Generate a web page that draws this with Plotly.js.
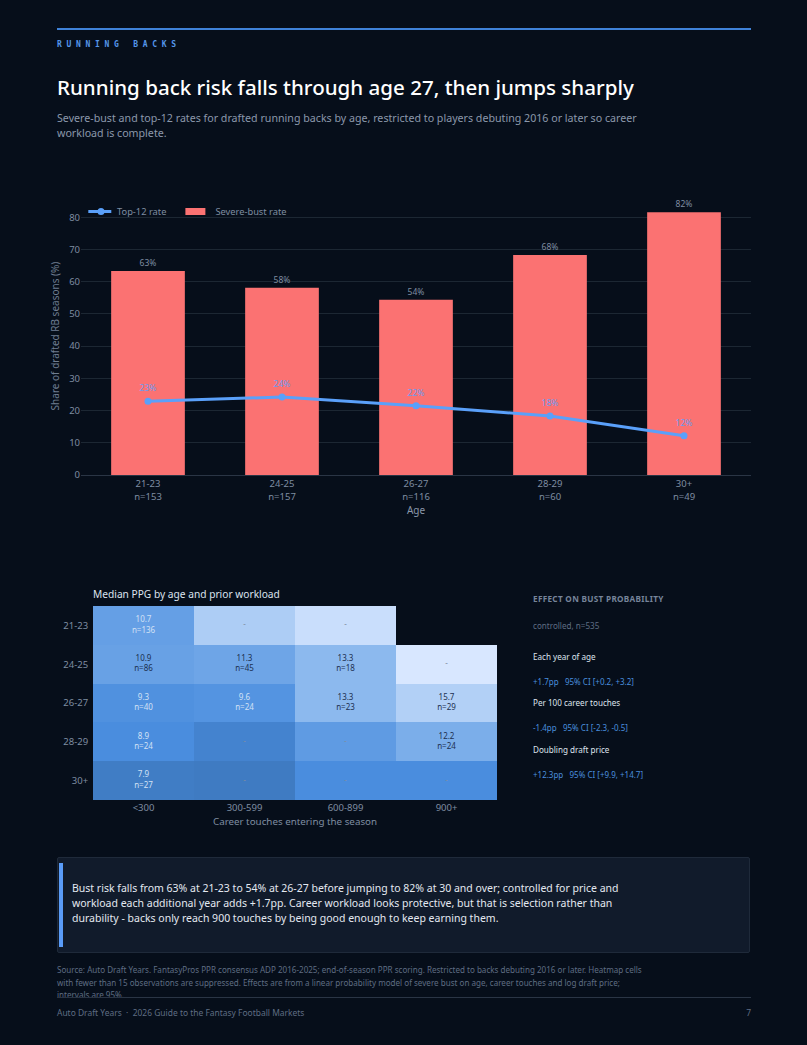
<!DOCTYPE html>
<html><head><meta charset="utf-8">
<script src="https://cdn.plot.ly/plotly-3.0.1.min.js"></script>
<style>
html,body{margin:0;padding:0;background:#060e1a;}
body{width:807px;height:1045px;position:relative;overflow:hidden;font-family:"Noto Sans",sans-serif;}
.t{position:absolute;white-space:nowrap;line-height:1;}
#c1,#c2{position:absolute;left:0;}
</style></head><body>
<div style="position:absolute;left:57px;top:28px;width:694px;height:2px;background:#3f82d8"></div>
<div class="t" style="left:57px;top:41px;font-size:8px;font-weight:700;letter-spacing:4.7px;color:#5596ea;font-family:'DejaVu Sans Mono',monospace">RUNNING BACKS</div>
<div class="t" style="left:57px;top:72px;font-size:20.55px;font-weight:500;color:#fff;line-height:30px">Running back risk falls through age 27, then jumps sharply</div>
<div class="t" style="left:57px;top:111px;font-size:10.67px;color:#8b98ab;line-height:15px">Severe-bust and top-12 rates for drafted running backs by age, restricted to players debuting 2016 or later so career<br>workload is complete.</div>
<div id="c1" style="top:180px;width:807px;height:350px"></div>
<div id="c2" style="top:575px;width:520px;height:260px"></div>
<div id="fx"></div>
<div style="position:absolute;left:57px;top:857px;width:691px;height:94px;background:#111b2b;border:1px solid #1f2a3a;border-radius:2px"></div>
<div style="position:absolute;left:59px;top:863px;width:4px;height:84px;background:#5a9cf8"></div>
<div class="t" style="left:72px;top:881px;font-size:10.5px;color:#e4e9f1;line-height:15px">Bust risk falls from 63% at 21-23 to 54% at 26-27 before jumping to 82% at 30 and over; controlled for price and<br>workload each additional year adds +1.7pp. Career workload looks protective, but that is selection rather than<br>durability - backs only reach 900 touches by being good enough to keep earning them.</div>
<div class="t" style="left:57px;top:964px;font-size:8.07px;color:#5f6d83;line-height:12.5px">Source: Auto Draft Years. FantasyPros PPR consensus ADP 2016-2025; end-of-season PPR scoring. Restricted to backs debuting 2016 or later. Heatmap cells<br>with fewer than 15 observations are suppressed. Effects are from a linear probability model of severe bust on age, career touches and log draft price;<br>intervals are 95%.</div>
<div style="position:absolute;left:57px;top:997px;width:694px;height:1px;background:#2a3545"></div>
<div class="t" style="left:57px;top:1007px;font-size:8.45px;color:#5f6d83;line-height:11px">Auto Draft Years &nbsp;·&nbsp; 2026 Guide to the Fantasy Football Markets</div>
<div class="t" style="right:56px;top:1007px;font-size:8.45px;color:#5f6d83;line-height:11px">7</div>
<script>
var ageLabels = ['21-23<br>n=153','24-25<br>n=157','26-27<br>n=116','28-29<br>n=60','30+<br>n=49'];
var bustRate = [63.3,58.1,54.4,68.3,81.6];
var bustText = ['63%','58%','54%','68%','82%'];
var topRate = [22.9,24.2,21.5,18.3,12.2];
var topText = ['23%','24%','22%','18%','12%'];
var ageRows = ['21-23','24-25','26-27','28-29','30+'];
var touchCols = ['<300','300-599','600-899','900+'];
var ppg = [
 [10.7,15.4,16.5,null],
 [10.9,11.3,13.3,17.0],
 [9.3,9.6,13.3,15.7],
 [8.9,8.3,10.3,12.2],
 [7.9,7.8,8.9,8.9]];
var cellLabels = [
 ['10.7<br>n=136','-','-',''],
 ['10.9<br>n=86','11.3<br>n=45','13.3<br>n=18','-'],
 ['9.3<br>n=40','9.6<br>n=24','13.3<br>n=23','15.7<br>n=29'],
 ['8.9<br>n=24','-','-','12.2<br>n=24'],
 ['7.9<br>n=27','-','-','-']];
var effectLabels = ['Each year of age','Per 100 career touches','Doubling draft price'];
var effectValues = ['+1.7pp &nbsp; 95% CI [+0.2, +3.2]','-1.4pp &nbsp; 95% CI [-2.3, -0.5]','+12.3pp &nbsp; 95% CI [+9.9, +14.7]'];

var F='"Noto Sans",sans-serif', W=807;
var tick={family:F,size:9.5,color:'#7f8da1'};
function tweakLegend(){
 var root=document.getElementById('c1');
 root.querySelectorAll('.legend .legendlines path').forEach(function(p){p.setAttribute('d','M7.3,0h23');});
 root.querySelectorAll('.legend .legendsymbols .scatterpts path').forEach(function(p){p.setAttribute('transform','translate(18.8,0)');});
 root.querySelectorAll('.legend .legendpoints path').forEach(function(p){
   var d=p.getAttribute('d')||'';
   if(d.indexOf('H-6')>=0||d.indexOf('H-10')>=0){p.setAttribute('d','M10,3.5H-10V-3.5H10Z');}
 });
 root.querySelectorAll('.legend .legendtext').forEach(function(t){
   if(t.textContent.indexOf('Top')!==0||t.getAttribute('data-moved'))return;
   t.setAttribute('data-moved','1');
   var dx=-4;
   t.setAttribute('x',String(parseFloat(t.getAttribute('x'))+dx));
   t.querySelectorAll('tspan').forEach(function(s){if(s.getAttribute('x'))s.setAttribute('x',String(parseFloat(s.getAttribute('x'))+dx));});
 });
}
Plotly.newPlot('c1',[
 {type:'bar',name:'Severe-bust rate',x:ageLabels,y:bustRate,text:bustText,textposition:'outside',cliponaxis:false,
  marker:{color:'#fb7272'},textfont:{family:F,size:8.5,color:'#7f8da1'},width:0.55},
 {type:'scatter',mode:'lines+markers',name:'Top-12 rate',x:ageLabels,y:topRate,
  line:{color:'#5aa0fa',width:3},marker:{color:'#5aa0fa',size:7}},
 {type:'scatter',mode:'markers+text',showlegend:false,x:ageLabels,y:topRate,text:topText,textposition:'top center',
  marker:{size:11,opacity:0},textfont:{family:F,size:8.5,color:'#6c9bf0'}}
],{
 width:807,height:350,paper_bgcolor:'rgba(0,0,0,0)',plot_bgcolor:'rgba(0,0,0,0)',
 margin:{l:80.7,r:56.3,t:17,b:54.7},showlegend:true,
 legend:{orientation:'h',x:0.0,xanchor:'left',y:1.0,yanchor:'top',traceorder:'reversed',font:{family:F,size:9.3,color:'#7f8da1'},bgcolor:'rgba(0,0,0,0)'},
 xaxis:{type:'category',tickfont:tick,showgrid:false,showline:true,linecolor:'#2a3545',ticks:'',
  title:{text:'Age',font:{family:F,size:10,color:'#8b98ab'},standoff:4}},
 yaxis:{range:[0,86.3],tickvals:[0,10,20,30,40,50,60,70,80],tickfont:tick,gridcolor:'#1c2733',zeroline:false,ticks:'',
  title:{text:'Share of drafted RB seasons (%)',font:{family:F,size:10,color:'#6f7d91'},standoff:7}}
},{displayModeBar:false,staticPlot:true}).then(function(){
 tweakLegend();
 requestAnimationFrame(tweakLegend);
 setTimeout(tweakLegend,100);
});

var cx=[],cy=[],ct=[],cc=[];
var darkCells={'10.9':1,'11.3':1,'13.3':1,'15.7':1,'12.2':1};
ppg.forEach(function(r,i){r.forEach(function(v,j){
  var s=cellLabels[i][j]; if(!s)return;
  cx.push(touchCols[j]);cy.push(ageRows[i]);ct.push(s);
  cc.push(s==='-'?'#7f8da1':(darkCells[String(v)]?'#1c3050':'#d2e1f5'));
});});
Plotly.newPlot('c2',[
 {type:'heatmap',x:touchCols,y:ageRows,z:ppg,zmin:7.8,zmax:17,showscale:false,hoverongaps:false,
  colorscale:[[0,'#3f7bc2'],[0.12,'#4a8dde'],[0.6,'#8cb9ee'],[0.859,'#b2d0f6'],[1,'#d8e7ff']]},
 {type:'scatter',mode:'text',x:cx,y:cy,text:ct,textposition:'middle center',showlegend:false,
  textfont:{family:F,size:8,color:cc}}
],{
 width:520,height:260,paper_bgcolor:'rgba(0,0,0,0)',plot_bgcolor:'rgba(0,0,0,0)',showlegend:false,
 title:{text:'Median PPG by age and prior workload',xref:'container',x:93/520,xanchor:'left',yref:'container',y:1-19/260,yanchor:'middle',font:{family:F,size:10.2,color:'#dce3ee'}},
 margin:{l:93,r:23.3,t:31,b:35},
 xaxis:{type:'category',categoryorder:'array',categoryarray:touchCols,tickfont:tick,showgrid:false,zeroline:false,ticks:'',
  title:{text:'Career touches entering the season',font:{family:F,size:9.8,color:'#7f8da1'},standoff:5}},
 yaxis:{type:'category',categoryorder:'array',categoryarray:ageRows,autorange:'reversed',tickfont:tick,showgrid:false,zeroline:false,ticks:'outside',ticklen:2,tickcolor:'rgba(0,0,0,0)'}
},{displayModeBar:false,staticPlot:true});

var fx='<div class="t" style="left:533px;top:594px;font-size:8.2px;font-weight:700;color:#76849a;letter-spacing:.3px;line-height:10px">EFFECT ON BUST PROBABILITY</div>'+
 '<div class="t" style="left:533px;top:621px;font-size:8.1px;color:#5f6d83;line-height:10px">controlled, n=535</div>';
var yL=[652,698,745],yV=[677,723,770];
effectLabels.forEach(function(s,i){
 fx+='<div class="t" style="left:533px;top:'+yL[i]+'px;font-size:8.1px;color:#dde3ec;line-height:10px">'+s+'</div>';
 fx+='<div class="t" style="left:533px;top:'+yV[i]+'px;font-size:8px;color:#4a8ede;line-height:10px">'+effectValues[i]+'</div>';
});
document.getElementById('fx').innerHTML=fx;
</script>
</body></html>
